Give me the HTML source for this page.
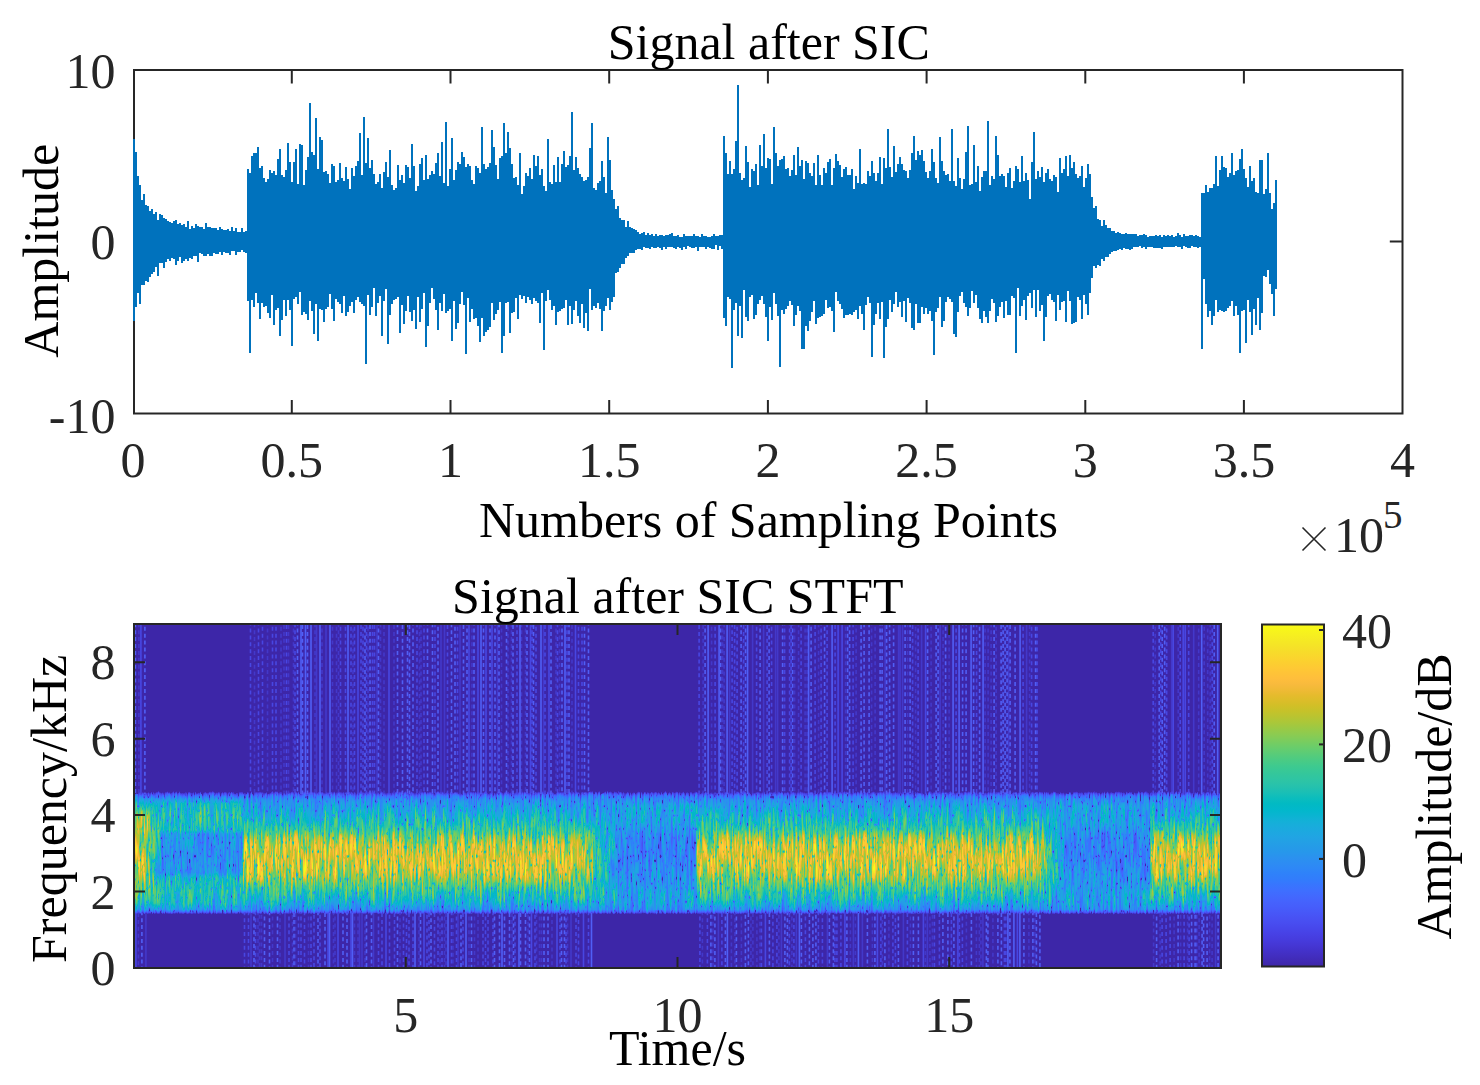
<!DOCTYPE html>
<html><head><meta charset="utf-8"><style>html,body{margin:0;padding:0;background:#fff;width:1480px;height:1085px;overflow:hidden}svg{display:block}</style></head>
<body>
<svg width="1480" height="1085" viewBox="0 0 1480 1085" font-family="'Liberation Serif', serif">
<rect width="1480" height="1085" fill="#fff"/>
<g stroke="#262626" stroke-width="2" fill="none">
<rect x="134.0" y="70.0" width="1268.5" height="343.5"/>
<path d="M291.8 70.0v13.5M291.8 413.5v-13.5M450.5 70.0v13.5M450.5 413.5v-13.5M609.2 70.0v13.5M609.2 413.5v-13.5M767.9 70.0v13.5M767.9 413.5v-13.5M926.6 70.0v13.5M926.6 413.5v-13.5M1085.3 70.0v13.5M1085.3 413.5v-13.5M1243.9 70.0v13.5M1243.9 413.5v-13.5M134.0 241.5h12.7M1402.5 241.5h-12.7"/>
</g>
<path fill="#0072bd" d="M133 242V139H135V152H137V176H139V185H141V200H143V194H145V205H147V206H149V211H151V209H153V214H155V212H157V220H159V214H161V215H163V218H165V219H167V221H169V222H171V223H173V221H175V220H177V224H179V223H181V225H183V224H185V227H187V221H189V229H191V226H193V228H195V224H197V226H199V227H201V227H203V229H205V223H207V227H209V227H211V228H213V228H215V228H217V230H219V227H221V229H223V230H225V230H227V229H229V231H231V227H233V231H235V228H237V232H239V232H241V228H243V232H245V231H247V169H249V173H251V156H253V153H255V153H257V147H259V168H261V166H263V178H265V182H267V179H269V170H271V173H273V171H275V175H277V159H279V149H281V175H283V177H285V170H287V143H289V162H291V182H293V162H295V149H297V184H299V144H301V145H303V185H305V170H307V157H309V103H311V152H313V155H315V118H317V169H319V137H321V140H323V172H325V171H327V174H329V183H331V164H333V166H335V182H337V180H339V163H341V178H343V181H345V167H347V179H349V189H351V168H353V176H355V166H357V161H359V133H361V175H363V117H365V163H367V138H369V168H371V160H373V174H375V184H377V182H379V174H381V188H383V172H385V162H387V177H389V150H391V185H393V190H395V188H397V165H399V180H401V175H403V183H405V165H407V167H409V178H411V144H413V166H415V191H417V186H419V164H421V158H423V180H425V155H427V179H429V175H431V171H433V174H435V163H437V153H439V176H441V142H443V183H445V122H447V186H449V169H451V138H453V180H455V170H457V162H459V164H461V152H463V157H465V167H467V164H469V166H471V180H473V184H475V166H477V168H479V173H481V127H483V164H485V169H487V167H489V163H491V130H493V147H495V165H497V179H499V158H501V156H503V123H505V153H507V132H509V148H511V164H513V178H515V177H517V185H519V153H521V194H523V186H525V173H527V176H529V168H531V179H533V155H535V166H537V156H539V175H541V169H543V186H545V191H547V139H549V182H551V184H553V165H555V182H557V157H559V182H561V164H563V151H565V167H567V165H569V156H571V112H573V170H575V157H577V168H579V174H581V177H583V181H585V180H587V177H589V148H591V123H593V188H595V190H597V183H599V181H601V161H603V177H605V193H607V137H609V160H611V190H613V199H615V209H617V206H619V218H621V220H623V220H625V227H627V221H629V227H631V228H633V229H635V230H637V232H639V234H641V233H643V232H645V235H647V233H649V235H651V234H653V236H655V234H657V236H659V235H661V235H663V236H665V235H667V235H669V234H671V233H673V236H675V236H677V235H679V237H681V237H683V234H685V236H687V236H689V236H691V236H693V234H695V236H697V236H699V237H701V234H703V236H705V236H707V237H709V237H711V236H713V234H715V236H717V236H719V235H721V235H723V136H725V153H727V174H729V161H731V174H733V169H735V141H737V85H739V173H741V180H743V178H745V146H747V162H749V187H751V169H753V171H755V164H757V185H759V145H761V166H763V134H765V168H767V158H769V159H771V184H773V127H775V153H777V166H779V160H781V159H783V156H785V169H787V168H789V176H791V170H793V155H795V175H797V147H799V166H801V160H803V179H805V161H807V163H809V173H811V176H813V163H815V185H817V155H819V175H821V185H823V168H825V173H827V162H829V159H831V185H833V168H835V154H837V161H839V165H841V177H843V169H845V167H847V175H849V175H851V169H853V189H855V176H857V183H859V149H861V184H863V183H865V184H867V171H869V176H871V161H873V173H875V181H877V173H879V157H881V184H883V158H885V168H887V129H889V167H891V177H893V146H895V172H897V164H899V157H901V164H903V170H905V171H907V178H909V170H911V153H913V136H915V160H917V151H919V155H921V150H923V161H925V172H927V178H929V171H931V149H933V162H935V178H937V183H939V137H941V161H943V171H945V175H947V174H949V181H951V129H953V181H955V186H957V158H959V178H961V189H963V179H965V152H967V126H969V185H971V184H973V145H975V182H977V166H979V191H981V177H983V171H985V171H987V121H989V185H991V176H993V179H995V136H997V155H999V176H1001V174H1003V176H1005V187H1007V173H1009V168H1011V188H1013V181H1015V166H1017V169H1019V182H1021V156H1023V181H1025V173H1027V180H1029V199H1031V162H1033V132H1035V179H1037V171H1039V177H1041V167H1043V182H1045V173H1047V169H1049V179H1051V181H1053V175H1055V177H1057V192H1059V158H1061V173H1063V169H1065V156H1067V176H1069V155H1071V168H1073V162H1075V174H1077V178H1079V176H1081V166H1083V187H1085V178H1087V164H1089V174H1091V197H1093V208H1095V206H1097V219H1099V220H1101V226H1103V220H1105V225H1107V228H1109V228H1111V231H1113V231H1115V233H1117V232H1119V233H1121V234H1123V234H1125V233H1127V234H1129V234H1131V234H1133V234H1135V234H1137V236H1139V235H1141V235H1143V234H1145V235H1147V237H1149V236H1151V236H1153V236H1155V235H1157V236H1159V235H1161V237H1163V235H1165V236H1167V235H1169V236H1171V235H1173V237H1175V236H1177V233H1179V235H1181V237H1183V234H1185V236H1187V236H1189V235H1191V235H1193V236H1195V235H1197V236H1199V237H1201V193H1203V193H1205V185H1207V192H1209V188H1211V188H1213V184H1215V156H1217V186H1219V170H1221V156H1223V167H1225V168H1227V177H1229V173H1231V153H1233V175H1235V171H1237V170H1239V159H1241V149H1243V169H1245V178H1247V187H1249V166H1251V181H1253V178H1255V192H1257V193H1259V160H1261V160H1263V194H1265V189H1267V153H1269V193H1271V209H1273V203H1275V180H1277V289H1275V316H1273V294H1271V284H1269V270H1267V277H1265V276H1263V313H1261V330H1259V298H1257V325H1255V309H1253V335H1251V312H1249V300H1247V343H1245V310H1243V311H1241V353H1239V315H1237V306H1235V316H1233V301H1231V306H1229V308H1227V311H1225V312H1223V311H1221V310H1219V312H1217V300H1215V316H1213V325H1211V311H1209V317H1207V304H1205V279H1203V349H1201V247H1199V248H1197V247H1195V247H1193V246H1191V248H1189V248H1187V247H1185V246H1183V249H1181V247H1179V247H1177V246H1175V247H1173V247H1171V247H1169V247H1167V247H1165V247H1163V249H1161V248H1159V248H1157V248H1155V248H1153V247H1151V247H1149V247H1147V249H1145V247H1143V248H1141V246H1139V247H1137V247H1135V247H1133V249H1131V250H1129V249H1127V249H1125V248H1123V250H1121V249H1119V250H1117V251H1115V251H1113V252H1111V254H1109V257H1107V257H1105V261H1103V259H1101V266H1099V265H1097V268H1095V266H1093V278H1091V293H1089V315H1087V304H1085V295H1083V319H1081V300H1079V297H1077V322H1075V323H1073V324H1071V301H1069V291H1067V322H1065V301H1063V302H1061V310H1059V295H1057V321H1055V302H1053V300H1051V294H1049V296H1047V317H1045V341H1043V305H1041V311H1039V290H1037V317H1035V290H1033V308H1031V293H1029V296H1027V320H1025V300H1023V306H1021V316H1019V288H1017V353H1015V298H1013V296H1011V315H1009V315H1007V301H1005V318H1003V302H1001V307H999V316H997V322H995V303H993V299H991V311H989V323H987V317H985V311H983V323H981V319H979V308H977V295H975V303H973V291H971V308H969V316H967V307H965V303H963V292H961V296H959V312H957V337H955V334H953V302H951V299H949V297H947V302H945V321H943V327H941V297H939V308H937V312H935V355H933V321H931V311H929V314H927V308H925V314H923V307H921V323H919V323H917V304H915V330H913V328H911V303H909V298H907V322H905V301H903V317H901V302H899V307H897V292H895V304H893V312H891V300H889V319H887V327H885V358H883V302H881V319H879V303H877V314H875V325H873V357H871V303H869V297H867V305H865V330H863V314H861V306H859V319H857V310H855V312H853V315H851V314H849V315H847V315H845V318H843V309H841V304H839V301H837V292H835V332H833V311H831V307H829V308H827V300H825V314H823V316H821V317H819V318H817V324H815V301H813V312H811V321H809V331H807V326H805V349H803V349H801V311H799V306H797V315H795V326H793V305H791V301H789V306H787V309H785V314H783V310H781V367H779V316H777V304H775V293H773V320H771V307H769V341H767V317H765V304H763V296H761V300H759V304H757V315H755V319H753V295H751V297H749V321H747V317H745V290H743V338H741V306H739V336H737V303H735V310H733V368H731V299H729V297H727V326H725V318H723V249H721V246H719V250H717V245H715V249H713V249H711V248H709V247H707V249H705V247H703V247H701V247H699V251H697V247H695V248H693V248H691V247H689V246H687V249H685V247H683V250H681V248H679V247H677V249H675V248H673V247H671V247H669V247H667V249H665V247H663V250H661V248H659V247H657V248H655V248H653V247H651V249H649V248H647V248H645V247H643V250H641V249H639V249H637V250H635V253H633V253H631V253H629V256H627V258H625V264H623V264H621V268H619V272H617V273H615V297H613V302H611V310H609V298H607V306H605V311H603V331H601V309H599V303H597V308H595V306H593V310H591V289H589V331H587V313H585V328H583V304H581V323H579V316H577V301H575V310H573V324H571V306H569V325H567V300H565V308H563V309H561V311H559V312H557V325H555V306H553V310H551V300H549V290H547V301H545V350H543V293H541V323H539V303H537V301H535V298H533V304H531V300H529V297H527V303H525V296H523V299H521V295H519V319H517V298H515V312H513V313H511V333H509V302H507V303H505V336H503V353H501V302H499V310H497V314H495V320H493V303H491V327H489V330H487V332H485V336H483V318H481V342H479V326H477V318H475V319H473V309H471V322H469V298H467V354H465V305H463V292H461V304H459V323H457V329H455V301H453V341H451V309H449V311H447V313H445V294H443V311H441V303H439V330H437V310H435V299H433V288H431V303H429V326H427V347H425V293H423V309H421V322H419V297H417V329H415V310H413V321H411V312H409V296H407V311H405V324H403V305H401V333H399V297H397V299H395V300H393V304H391V315H389V344H387V289H385V301H383V336H381V296H379V303H377V316H375V288H373V307H371V315H369V295H367V364H365V306H363V304H361V302H359V297H357V300H355V313H353V302H351V306H349V312H347V316H345V296H343V313H341V304H339V302H337V299H335V321H333V309H331V294H329V307H327V309H325V322H323V310H321V309H319V341H317V304H315V334H313V311H311V301H309V320H307V314H305V312H303V315H301V292H299V304H297V297H295V299H293V346H291V310H289V300H287V316H285V300H283V320H281V336H279V308H277V310H275V325H273V295H271V318H269V313H267V306H265V307H263V303H261V319H259V303H257V293H255V307H253V300H251V353H249V301H247V253H245V252H243V250H241V252H239V252H237V255H235V251H233V251H231V255H229V253H227V253H225V252H223V255H221V252H219V254H217V254H215V253H213V256H211V256H209V254H207V256H205V256H203V254H201V253H199V262H197V256H195V256H193V259H191V258H189V261H187V259H185V261H183V263H181V257H179V261H177V265H175V259H173V258H171V261H169V259H167V262H165V268H163V263H161V263H159V276H157V267H155V272H153V274H151V277H149V282H147V281H145V285H143V285H141V304H139V293H137V307H135V321H133Z"/>
<text x="768.8" y="58.9" font-size="50" text-anchor="middle" fill="#000" >Signal after SIC</text>
<text x="133.1" y="476.5" font-size="50" text-anchor="middle" fill="#262626" >0</text>
<text x="291.8" y="476.5" font-size="50" text-anchor="middle" fill="#262626" >0.5</text>
<text x="450.5" y="476.5" font-size="50" text-anchor="middle" fill="#262626" >1</text>
<text x="609.2" y="476.5" font-size="50" text-anchor="middle" fill="#262626" >1.5</text>
<text x="767.9" y="476.5" font-size="50" text-anchor="middle" fill="#262626" >2</text>
<text x="926.6" y="476.5" font-size="50" text-anchor="middle" fill="#262626" >2.5</text>
<text x="1085.3" y="476.5" font-size="50" text-anchor="middle" fill="#262626" >3</text>
<text x="1243.9" y="476.5" font-size="50" text-anchor="middle" fill="#262626" >3.5</text>
<text x="1402.6" y="476.5" font-size="50" text-anchor="middle" fill="#262626" >4</text>
<text x="115.5" y="88.0" font-size="50" text-anchor="end" fill="#262626" >10</text>
<text x="115.5" y="259.0" font-size="50" text-anchor="end" fill="#262626" >0</text>
<text x="115.5" y="432.5" font-size="50" text-anchor="end" fill="#262626" >-10</text>
<text x="768.5" y="536.8" font-size="50" text-anchor="middle" fill="#000" >Numbers of Sampling Points</text>
<path d="M1302.5 527.5L1325.5 550.5M1325.5 527.5L1302.5 550.5" stroke="#262626" stroke-width="1.6"/>
<text x="1334.0" y="551.8" font-size="50" text-anchor="start" fill="#262626" >10</text>
<text x="1383.0" y="527.5" font-size="39" text-anchor="start" fill="#262626" >5</text>
<text transform="translate(57.6 250.7) rotate(-90)" font-size="50" text-anchor="middle">Amplitude</text>
<defs><linearGradient id="p_act" gradientUnits="userSpaceOnUse" x1="0" y1="624.0" x2="0" y2="968.0"><stop offset="0.0000" stop-color="rgb(0,0,0)"/><stop offset="0.4756" stop-color="rgb(0,0,0)"/><stop offset="0.4844" stop-color="rgb(44,44,44)"/><stop offset="0.4922" stop-color="rgb(85,85,85)"/><stop offset="0.5000" stop-color="rgb(108,108,108)"/><stop offset="0.5111" stop-color="rgb(124,124,124)"/><stop offset="0.5333" stop-color="rgb(137,137,137)"/><stop offset="0.5556" stop-color="rgb(149,149,149)"/><stop offset="0.5778" stop-color="rgb(162,162,162)"/><stop offset="0.6000" stop-color="rgb(175,175,175)"/><stop offset="0.6222" stop-color="rgb(194,194,194)"/><stop offset="0.6444" stop-color="rgb(209,209,209)"/><stop offset="0.6778" stop-color="rgb(215,215,215)"/><stop offset="0.7111" stop-color="rgb(212,212,212)"/><stop offset="0.7333" stop-color="rgb(201,201,201)"/><stop offset="0.7556" stop-color="rgb(185,185,185)"/><stop offset="0.7778" stop-color="rgb(169,169,169)"/><stop offset="0.8000" stop-color="rgb(156,156,156)"/><stop offset="0.8167" stop-color="rgb(140,140,140)"/><stop offset="0.8300" stop-color="rgb(124,124,124)"/><stop offset="0.8378" stop-color="rgb(98,98,98)"/><stop offset="0.8444" stop-color="rgb(54,54,54)"/><stop offset="0.8522" stop-color="rgb(0,0,0)"/><stop offset="1.0000" stop-color="rgb(0,0,0)"/></linearGradient><linearGradient id="p_quiet" gradientUnits="userSpaceOnUse" x1="0" y1="624.0" x2="0" y2="968.0"><stop offset="0.0000" stop-color="rgb(0,0,0)"/><stop offset="0.4756" stop-color="rgb(0,0,0)"/><stop offset="0.4844" stop-color="rgb(44,44,44)"/><stop offset="0.4922" stop-color="rgb(85,85,85)"/><stop offset="0.5000" stop-color="rgb(108,108,108)"/><stop offset="0.5089" stop-color="rgb(121,121,121)"/><stop offset="0.5333" stop-color="rgb(138,138,138)"/><stop offset="0.5778" stop-color="rgb(135,135,135)"/><stop offset="0.6222" stop-color="rgb(121,121,121)"/><stop offset="0.6889" stop-color="rgb(117,117,117)"/><stop offset="0.7556" stop-color="rgb(129,129,129)"/><stop offset="0.7889" stop-color="rgb(140,140,140)"/><stop offset="0.8111" stop-color="rgb(137,137,137)"/><stop offset="0.8300" stop-color="rgb(124,124,124)"/><stop offset="0.8378" stop-color="rgb(98,98,98)"/><stop offset="0.8444" stop-color="rgb(54,54,54)"/><stop offset="0.8522" stop-color="rgb(0,0,0)"/><stop offset="1.0000" stop-color="rgb(0,0,0)"/></linearGradient><linearGradient id="p_quiet1" gradientUnits="userSpaceOnUse" x1="0" y1="624.0" x2="0" y2="968.0"><stop offset="0.0000" stop-color="rgb(0,0,0)"/><stop offset="0.4756" stop-color="rgb(0,0,0)"/><stop offset="0.4844" stop-color="rgb(44,44,44)"/><stop offset="0.4922" stop-color="rgb(85,85,85)"/><stop offset="0.5000" stop-color="rgb(108,108,108)"/><stop offset="0.5089" stop-color="rgb(130,130,130)"/><stop offset="0.5222" stop-color="rgb(153,153,153)"/><stop offset="0.5556" stop-color="rgb(162,162,162)"/><stop offset="0.5978" stop-color="rgb(159,159,159)"/><stop offset="0.6111" stop-color="rgb(130,130,130)"/><stop offset="0.6667" stop-color="rgb(124,124,124)"/><stop offset="0.7222" stop-color="rgb(130,130,130)"/><stop offset="0.7389" stop-color="rgb(159,159,159)"/><stop offset="0.7778" stop-color="rgb(162,162,162)"/><stop offset="0.8111" stop-color="rgb(153,153,153)"/><stop offset="0.8300" stop-color="rgb(130,130,130)"/><stop offset="0.8378" stop-color="rgb(98,98,98)"/><stop offset="0.8444" stop-color="rgb(54,54,54)"/><stop offset="0.8522" stop-color="rgb(0,0,0)"/><stop offset="1.0000" stop-color="rgb(0,0,0)"/></linearGradient><linearGradient id="p_start" gradientUnits="userSpaceOnUse" x1="0" y1="624.0" x2="0" y2="968.0"><stop offset="0.0000" stop-color="rgb(0,0,0)"/><stop offset="0.4756" stop-color="rgb(0,0,0)"/><stop offset="0.4844" stop-color="rgb(44,44,44)"/><stop offset="0.4922" stop-color="rgb(85,85,85)"/><stop offset="0.5000" stop-color="rgb(108,108,108)"/><stop offset="0.5089" stop-color="rgb(130,130,130)"/><stop offset="0.5333" stop-color="rgb(162,162,162)"/><stop offset="0.5667" stop-color="rgb(194,194,194)"/><stop offset="0.6000" stop-color="rgb(210,210,210)"/><stop offset="0.6556" stop-color="rgb(217,217,217)"/><stop offset="0.7111" stop-color="rgb(213,213,213)"/><stop offset="0.7444" stop-color="rgb(201,201,201)"/><stop offset="0.7778" stop-color="rgb(175,175,175)"/><stop offset="0.8111" stop-color="rgb(156,156,156)"/><stop offset="0.8300" stop-color="rgb(130,130,130)"/><stop offset="0.8378" stop-color="rgb(98,98,98)"/><stop offset="0.8444" stop-color="rgb(54,54,54)"/><stop offset="0.8522" stop-color="rgb(0,0,0)"/><stop offset="1.0000" stop-color="rgb(0,0,0)"/></linearGradient><linearGradient id="p_t0" gradientUnits="userSpaceOnUse" x1="0" y1="624.0" x2="0" y2="968.0"><stop offset="0.0000" stop-color="rgb(0,0,0)"/><stop offset="0.4756" stop-color="rgb(0,0,0)"/><stop offset="0.4844" stop-color="rgb(44,44,44)"/><stop offset="0.4922" stop-color="rgb(85,85,85)"/><stop offset="0.5000" stop-color="rgb(108,108,108)"/><stop offset="0.5089" stop-color="rgb(121,121,121)"/><stop offset="0.5111" stop-color="rgb(124,124,124)"/><stop offset="0.5333" stop-color="rgb(137,137,137)"/><stop offset="0.5556" stop-color="rgb(147,147,147)"/><stop offset="0.5778" stop-color="rgb(157,157,157)"/><stop offset="0.6000" stop-color="rgb(166,166,166)"/><stop offset="0.6222" stop-color="rgb(180,180,180)"/><stop offset="0.6444" stop-color="rgb(191,191,191)"/><stop offset="0.6778" stop-color="rgb(196,196,196)"/><stop offset="0.6889" stop-color="rgb(195,195,195)"/><stop offset="0.7111" stop-color="rgb(194,194,194)"/><stop offset="0.7333" stop-color="rgb(185,185,185)"/><stop offset="0.7556" stop-color="rgb(173,173,173)"/><stop offset="0.7778" stop-color="rgb(162,162,162)"/><stop offset="0.7889" stop-color="rgb(158,158,158)"/><stop offset="0.8000" stop-color="rgb(152,152,152)"/><stop offset="0.8111" stop-color="rgb(143,143,143)"/><stop offset="0.8167" stop-color="rgb(138,138,138)"/><stop offset="0.8300" stop-color="rgb(124,124,124)"/><stop offset="0.8378" stop-color="rgb(98,98,98)"/><stop offset="0.8444" stop-color="rgb(54,54,54)"/><stop offset="0.8522" stop-color="rgb(0,0,0)"/><stop offset="1.0000" stop-color="rgb(0,0,0)"/></linearGradient><linearGradient id="p_t1" gradientUnits="userSpaceOnUse" x1="0" y1="624.0" x2="0" y2="968.0"><stop offset="0.0000" stop-color="rgb(0,0,0)"/><stop offset="0.4756" stop-color="rgb(0,0,0)"/><stop offset="0.4844" stop-color="rgb(44,44,44)"/><stop offset="0.4922" stop-color="rgb(85,85,85)"/><stop offset="0.5000" stop-color="rgb(108,108,108)"/><stop offset="0.5089" stop-color="rgb(121,121,121)"/><stop offset="0.5111" stop-color="rgb(123,123,123)"/><stop offset="0.5333" stop-color="rgb(137,137,137)"/><stop offset="0.5556" stop-color="rgb(144,144,144)"/><stop offset="0.5778" stop-color="rgb(151,151,151)"/><stop offset="0.6000" stop-color="rgb(156,156,156)"/><stop offset="0.6222" stop-color="rgb(165,165,165)"/><stop offset="0.6444" stop-color="rgb(173,173,173)"/><stop offset="0.6778" stop-color="rgb(176,176,176)"/><stop offset="0.6889" stop-color="rgb(175,175,175)"/><stop offset="0.7111" stop-color="rgb(176,176,176)"/><stop offset="0.7333" stop-color="rgb(170,170,170)"/><stop offset="0.7556" stop-color="rgb(162,162,162)"/><stop offset="0.7778" stop-color="rgb(156,156,156)"/><stop offset="0.7889" stop-color="rgb(153,153,153)"/><stop offset="0.8000" stop-color="rgb(149,149,149)"/><stop offset="0.8111" stop-color="rgb(142,142,142)"/><stop offset="0.8167" stop-color="rgb(137,137,137)"/><stop offset="0.8300" stop-color="rgb(124,124,124)"/><stop offset="0.8378" stop-color="rgb(98,98,98)"/><stop offset="0.8444" stop-color="rgb(54,54,54)"/><stop offset="0.8522" stop-color="rgb(0,0,0)"/><stop offset="1.0000" stop-color="rgb(0,0,0)"/></linearGradient><linearGradient id="p_t2" gradientUnits="userSpaceOnUse" x1="0" y1="624.0" x2="0" y2="968.0"><stop offset="0.0000" stop-color="rgb(0,0,0)"/><stop offset="0.4756" stop-color="rgb(0,0,0)"/><stop offset="0.4844" stop-color="rgb(44,44,44)"/><stop offset="0.4922" stop-color="rgb(85,85,85)"/><stop offset="0.5000" stop-color="rgb(108,108,108)"/><stop offset="0.5089" stop-color="rgb(121,121,121)"/><stop offset="0.5111" stop-color="rgb(123,123,123)"/><stop offset="0.5333" stop-color="rgb(138,138,138)"/><stop offset="0.5556" stop-color="rgb(142,142,142)"/><stop offset="0.5778" stop-color="rgb(146,146,146)"/><stop offset="0.6000" stop-color="rgb(147,147,147)"/><stop offset="0.6222" stop-color="rgb(150,150,150)"/><stop offset="0.6444" stop-color="rgb(155,155,155)"/><stop offset="0.6778" stop-color="rgb(157,157,157)"/><stop offset="0.6889" stop-color="rgb(156,156,156)"/><stop offset="0.7111" stop-color="rgb(157,157,157)"/><stop offset="0.7333" stop-color="rgb(155,155,155)"/><stop offset="0.7556" stop-color="rgb(151,151,151)"/><stop offset="0.7778" stop-color="rgb(149,149,149)"/><stop offset="0.7889" stop-color="rgb(149,149,149)"/><stop offset="0.8000" stop-color="rgb(145,145,145)"/><stop offset="0.8111" stop-color="rgb(140,140,140)"/><stop offset="0.8167" stop-color="rgb(136,136,136)"/><stop offset="0.8300" stop-color="rgb(124,124,124)"/><stop offset="0.8378" stop-color="rgb(98,98,98)"/><stop offset="0.8444" stop-color="rgb(54,54,54)"/><stop offset="0.8522" stop-color="rgb(0,0,0)"/><stop offset="1.0000" stop-color="rgb(0,0,0)"/></linearGradient><linearGradient id="p_t3" gradientUnits="userSpaceOnUse" x1="0" y1="624.0" x2="0" y2="968.0"><stop offset="0.0000" stop-color="rgb(0,0,0)"/><stop offset="0.4756" stop-color="rgb(0,0,0)"/><stop offset="0.4844" stop-color="rgb(44,44,44)"/><stop offset="0.4922" stop-color="rgb(85,85,85)"/><stop offset="0.5000" stop-color="rgb(108,108,108)"/><stop offset="0.5089" stop-color="rgb(121,121,121)"/><stop offset="0.5111" stop-color="rgb(123,123,123)"/><stop offset="0.5333" stop-color="rgb(138,138,138)"/><stop offset="0.5556" stop-color="rgb(139,139,139)"/><stop offset="0.5778" stop-color="rgb(141,141,141)"/><stop offset="0.6000" stop-color="rgb(137,137,137)"/><stop offset="0.6222" stop-color="rgb(135,135,135)"/><stop offset="0.6444" stop-color="rgb(137,137,137)"/><stop offset="0.6778" stop-color="rgb(137,137,137)"/><stop offset="0.6889" stop-color="rgb(137,137,137)"/><stop offset="0.7111" stop-color="rgb(139,139,139)"/><stop offset="0.7333" stop-color="rgb(140,140,140)"/><stop offset="0.7556" stop-color="rgb(140,140,140)"/><stop offset="0.7778" stop-color="rgb(143,143,143)"/><stop offset="0.7889" stop-color="rgb(144,144,144)"/><stop offset="0.8000" stop-color="rgb(142,142,142)"/><stop offset="0.8111" stop-color="rgb(138,138,138)"/><stop offset="0.8167" stop-color="rgb(134,134,134)"/><stop offset="0.8300" stop-color="rgb(124,124,124)"/><stop offset="0.8378" stop-color="rgb(98,98,98)"/><stop offset="0.8444" stop-color="rgb(54,54,54)"/><stop offset="0.8522" stop-color="rgb(0,0,0)"/><stop offset="1.0000" stop-color="rgb(0,0,0)"/></linearGradient><linearGradient id="p_s0" gradientUnits="userSpaceOnUse" x1="0" y1="624.0" x2="0" y2="968.0"><stop offset="0.0000" stop-color="rgb(0,0,0)"/><stop offset="0.4756" stop-color="rgb(0,0,0)"/><stop offset="0.4844" stop-color="rgb(44,44,44)"/><stop offset="0.4922" stop-color="rgb(85,85,85)"/><stop offset="0.5000" stop-color="rgb(108,108,108)"/><stop offset="0.5089" stop-color="rgb(130,130,130)"/><stop offset="0.5222" stop-color="rgb(149,149,149)"/><stop offset="0.5333" stop-color="rgb(161,161,161)"/><stop offset="0.5556" stop-color="rgb(178,178,178)"/><stop offset="0.5667" stop-color="rgb(186,186,186)"/><stop offset="0.5978" stop-color="rgb(197,197,197)"/><stop offset="0.6000" stop-color="rgb(196,196,196)"/><stop offset="0.6111" stop-color="rgb(191,191,191)"/><stop offset="0.6556" stop-color="rgb(194,194,194)"/><stop offset="0.6667" stop-color="rgb(193,193,193)"/><stop offset="0.7111" stop-color="rgb(192,192,192)"/><stop offset="0.7222" stop-color="rgb(189,189,189)"/><stop offset="0.7389" stop-color="rgb(192,192,192)"/><stop offset="0.7444" stop-color="rgb(190,190,190)"/><stop offset="0.7778" stop-color="rgb(172,172,172)"/><stop offset="0.8111" stop-color="rgb(155,155,155)"/><stop offset="0.8300" stop-color="rgb(130,130,130)"/><stop offset="0.8378" stop-color="rgb(98,98,98)"/><stop offset="0.8444" stop-color="rgb(54,54,54)"/><stop offset="0.8522" stop-color="rgb(0,0,0)"/><stop offset="1.0000" stop-color="rgb(0,0,0)"/></linearGradient><linearGradient id="p_s1" gradientUnits="userSpaceOnUse" x1="0" y1="624.0" x2="0" y2="968.0"><stop offset="0.0000" stop-color="rgb(0,0,0)"/><stop offset="0.4756" stop-color="rgb(0,0,0)"/><stop offset="0.4844" stop-color="rgb(44,44,44)"/><stop offset="0.4922" stop-color="rgb(85,85,85)"/><stop offset="0.5000" stop-color="rgb(108,108,108)"/><stop offset="0.5089" stop-color="rgb(130,130,130)"/><stop offset="0.5222" stop-color="rgb(150,150,150)"/><stop offset="0.5333" stop-color="rgb(159,159,159)"/><stop offset="0.5556" stop-color="rgb(173,173,173)"/><stop offset="0.5667" stop-color="rgb(178,178,178)"/><stop offset="0.5978" stop-color="rgb(184,184,184)"/><stop offset="0.6000" stop-color="rgb(182,182,182)"/><stop offset="0.6111" stop-color="rgb(171,171,171)"/><stop offset="0.6556" stop-color="rgb(171,171,171)"/><stop offset="0.6667" stop-color="rgb(170,170,170)"/><stop offset="0.7111" stop-color="rgb(171,171,171)"/><stop offset="0.7222" stop-color="rgb(170,170,170)"/><stop offset="0.7389" stop-color="rgb(181,181,181)"/><stop offset="0.7444" stop-color="rgb(180,180,180)"/><stop offset="0.7778" stop-color="rgb(169,169,169)"/><stop offset="0.8111" stop-color="rgb(154,154,154)"/><stop offset="0.8300" stop-color="rgb(130,130,130)"/><stop offset="0.8378" stop-color="rgb(98,98,98)"/><stop offset="0.8444" stop-color="rgb(54,54,54)"/><stop offset="0.8522" stop-color="rgb(0,0,0)"/><stop offset="1.0000" stop-color="rgb(0,0,0)"/></linearGradient><linearGradient id="p_s2" gradientUnits="userSpaceOnUse" x1="0" y1="624.0" x2="0" y2="968.0"><stop offset="0.0000" stop-color="rgb(0,0,0)"/><stop offset="0.4756" stop-color="rgb(0,0,0)"/><stop offset="0.4844" stop-color="rgb(44,44,44)"/><stop offset="0.4922" stop-color="rgb(85,85,85)"/><stop offset="0.5000" stop-color="rgb(108,108,108)"/><stop offset="0.5089" stop-color="rgb(130,130,130)"/><stop offset="0.5222" stop-color="rgb(151,151,151)"/><stop offset="0.5333" stop-color="rgb(157,157,157)"/><stop offset="0.5556" stop-color="rgb(168,168,168)"/><stop offset="0.5667" stop-color="rgb(170,170,170)"/><stop offset="0.5978" stop-color="rgb(172,172,172)"/><stop offset="0.6000" stop-color="rgb(168,168,168)"/><stop offset="0.6111" stop-color="rgb(151,151,151)"/><stop offset="0.6556" stop-color="rgb(148,148,148)"/><stop offset="0.6667" stop-color="rgb(147,147,147)"/><stop offset="0.7111" stop-color="rgb(150,150,150)"/><stop offset="0.7222" stop-color="rgb(150,150,150)"/><stop offset="0.7389" stop-color="rgb(170,170,170)"/><stop offset="0.7444" stop-color="rgb(170,170,170)"/><stop offset="0.7778" stop-color="rgb(165,165,165)"/><stop offset="0.8111" stop-color="rgb(153,153,153)"/><stop offset="0.8300" stop-color="rgb(130,130,130)"/><stop offset="0.8378" stop-color="rgb(98,98,98)"/><stop offset="0.8444" stop-color="rgb(54,54,54)"/><stop offset="0.8522" stop-color="rgb(0,0,0)"/><stop offset="1.0000" stop-color="rgb(0,0,0)"/></linearGradient><filter id="spec" x="134.0" y="624.0" width="1087.0" height="344.0" filterUnits="userSpaceOnUse" color-interpolation-filters="sRGB"><feTurbulence type="fractalNoise" baseFrequency="0.45 0.035" numOctaves="2" seed="5" result="t"/><feColorMatrix in="t" type="matrix" values="1 0 0 0 0 1 0 0 0 0 1 0 0 0 0 0 0 0 0 1" result="n"/><feComposite in="SourceGraphic" in2="n" operator="arithmetic" k1="0.74667" k2="0.96000" k3="0.14933" k4="-0.40800" result="c"/><feTurbulence type="fractalNoise" baseFrequency="0.55 0.22" numOctaves="1" seed="9" result="t2"/><feComponentTransfer in="t2" result="sp"><feFuncR type="table" tableValues="0 0 0.1 0.8 1 1 1 1 1 1"/><feFuncA type="linear" slope="0" intercept="1"/></feComponentTransfer><feComposite in="c" in2="sp" operator="arithmetic" k1="0" k2="1" k3="0.38" k4="-0.38" result="c2"/><feColorMatrix in="c2" type="matrix" values="1 0 0 0 0 1 0 0 0 0 1 0 0 0 0 0 0 0 0 1"/><feComponentTransfer><feFuncR type="table" tableValues="0.2422 0.2504 0.2578 0.2647 0.2706 0.2751 0.2783 0.2803 0.2813 0.2810 0.2795 0.2760 0.2699 0.2602 0.2440 0.2206 0.1963 0.1834 0.1786 0.1764 0.1687 0.1540 0.1460 0.1380 0.1248 0.1113 0.0952 0.0689 0.0297 0.0036 0.0067 0.0433 0.0964 0.1408 0.1717 0.1938 0.2161 0.2470 0.2906 0.3406 0.3909 0.4456 0.5044 0.5616 0.6174 0.6720 0.7242 0.7738 0.8203 0.8634 0.9035 0.9393 0.9728 0.9956 0.9970 0.9952 0.9892 0.9786 0.9676 0.9610 0.9597 0.9628 0.9691 0.9769"/><feFuncG type="table" tableValues="0.1504 0.1650 0.1818 0.1978 0.2147 0.2342 0.2559 0.2782 0.3006 0.3228 0.3447 0.3667 0.3892 0.4123 0.4358 0.4603 0.4847 0.5074 0.5289 0.5499 0.5703 0.5902 0.6091 0.6276 0.6459 0.6635 0.6798 0.6948 0.7082 0.7203 0.7312 0.7411 0.7500 0.7584 0.7670 0.7758 0.7843 0.7918 0.7973 0.8008 0.8029 0.8024 0.7993 0.7942 0.7876 0.7793 0.7698 0.7598 0.7498 0.7406 0.7330 0.7288 0.7298 0.7434 0.7659 0.7893 0.8136 0.8386 0.8639 0.8890 0.9135 0.9373 0.9606 0.9839"/><feFuncB type="table" tableValues="0.6603 0.7076 0.7511 0.7952 0.8364 0.8710 0.8991 0.9221 0.9414 0.9579 0.9717 0.9829 0.9906 0.9952 0.9988 0.9973 0.9892 0.9798 0.9682 0.9520 0.9359 0.9218 0.9079 0.8973 0.8883 0.8763 0.8598 0.8394 0.8163 0.7917 0.7660 0.7394 0.7120 0.6842 0.6554 0.6251 0.5923 0.5567 0.5188 0.4789 0.4354 0.3909 0.3480 0.3045 0.2612 0.2227 0.1910 0.1646 0.1535 0.1596 0.1774 0.2100 0.2394 0.2371 0.2199 0.2028 0.1885 0.1766 0.1643 0.1537 0.1423 0.1265 0.1064 0.0805"/></feComponentTransfer></filter></defs>
<g filter="url(#spec)">
<rect x="134.0" y="624.0" width="11.5" height="344.0" fill="url(#p_start)"/>
<rect x="144.9" y="624.0" width="6.0" height="344.0" fill="url(#p_s0)"/>
<rect x="150.3" y="624.0" width="6.0" height="344.0" fill="url(#p_s1)"/>
<rect x="155.7" y="624.0" width="6.0" height="344.0" fill="url(#p_s2)"/>
<rect x="161.2" y="624.0" width="82.1" height="344.0" fill="url(#p_quiet1)"/>
<rect x="242.7" y="624.0" width="343.0" height="344.0" fill="url(#p_act)"/>
<rect x="585.1" y="624.0" width="8.8" height="344.0" fill="url(#p_t0)"/>
<rect x="593.3" y="624.0" width="8.8" height="344.0" fill="url(#p_t1)"/>
<rect x="601.4" y="624.0" width="8.8" height="344.0" fill="url(#p_t2)"/>
<rect x="609.6" y="624.0" width="8.8" height="344.0" fill="url(#p_t3)"/>
<rect x="617.7" y="624.0" width="79.4" height="344.0" fill="url(#p_quiet)"/>
<rect x="696.5" y="624.0" width="343.0" height="344.0" fill="url(#p_act)"/>
<rect x="1038.9" y="624.0" width="7.1" height="344.0" fill="url(#p_t0)"/>
<rect x="1045.4" y="624.0" width="7.1" height="344.0" fill="url(#p_t1)"/>
<rect x="1052.0" y="624.0" width="6.6" height="344.0" fill="url(#p_t2)"/>
<rect x="1058.0" y="624.0" width="6.0" height="344.0" fill="url(#p_t3)"/>
<rect x="1063.4" y="624.0" width="87.6" height="344.0" fill="url(#p_quiet)"/>
<rect x="1150.3" y="624.0" width="71.3" height="344.0" fill="url(#p_act)"/>
</g>
<path d="M284.0 625V794M288.5 625V794M384.0 625V794M394.0 625V794M419.5 625V794M572.0 625V794M703.1 625V794M1029.6 625V794M138.4 913V967M295.5 913V967M446.0 913V967M478.0 913V967M512.0 913V967M536.5 913V967M552.0 913V967M752.9 913V967M882.4 913V967M888.9 913V967M980.9 913V967M1160.1 913V967" stroke="#4640d8" stroke-opacity="0.7" stroke-width="1.6" stroke-dasharray="4 2.9" stroke-dashoffset="0.0"/>
<path d="M377.0 625V794M444.5 625V794M752.6 625V794M763.6 625V794M885.1 625V794M898.6 625V794M902.6 625V794M940.1 625V794M1008.6 625V794M1026.6 625V794M1171.7 625V794M1193.7 625V794M285.0 913V967M359.5 913V967M796.4 913V967M827.4 913V967M853.4 913V967M862.4 913V967M982.9 913V967M1215.6 913V967" stroke="#4640d8" stroke-opacity="0.7" stroke-width="1.6"/>
<path d="M138.9 625V794M254.5 625V794M315.0 625V794M338.5 625V794M380.5 625V794M421.0 625V794M511.5 625V794M521.5 625V794M724.1 625V794M798.6 625V794M818.6 625V794M907.6 625V794M943.1 625V794M991.1 625V794M1210.2 625V794M258.0 913V967M280.0 913V967M333.5 913V967M400.0 913V967M440.0 913V967M453.0 913V967M702.4 913V967M734.9 913V967M992.9 913V967M1028.9 913V967M1034.9 913V967M1199.1 913V967" stroke="#4640d8" stroke-opacity="0.7" stroke-width="1.6" stroke-dasharray="4 2.9" stroke-dashoffset="1.7"/>
<path d="M316.5 625V794M326.0 625V794M460.0 625V794M900.1 625V794M921.6 625V794M145.9 913V967M362.0 913V967M373.5 913V967" stroke="#4640d8" stroke-opacity="0.7" stroke-width="1.6"/>
<path d="M267.5 625V794M293.5 625V794M322.0 625V794M353.0 625V794M472.0 625V794M501.5 625V794M525.5 625V794M556.0 625V794M559.5 625V794M722.6 625V794M794.6 625V794M805.1 625V794M807.1 625V794M856.1 625V794M871.6 625V794M985.1 625V794M988.1 625V794M1198.7 625V794M1207.7 625V794M272.5 913V967M308.5 913V967M335.0 913V967M354.5 913V967M358.0 913V967M365.0 913V967M419.0 913V967M444.5 913V967M469.0 913V967M474.5 913V967M539.5 913V967M541.5 913V967M567.5 913V967M741.4 913V967M750.9 913V967M756.9 913V967M791.9 913V967M850.4 913V967M855.4 913V967M872.4 913V967M910.4 913V967M925.4 913V967M929.9 913V967M976.4 913V967M979.4 913V967M1174.1 913V967M1212.1 913V967" stroke="#4640d8" stroke-opacity="0.7" stroke-width="1.6" stroke-dasharray="4 2.9" stroke-dashoffset="3.4"/>
<path d="M543.5 625V794M729.6 625V794M775.6 625V794M458.0 913V967M718.4 913V967" stroke="#4640d8" stroke-opacity="0.7" stroke-width="1.6"/>
<path d="M281.0 625V794M332.5 625V794M336.5 625V794M368.0 625V794M508.0 625V794M711.6 625V794M845.6 625V794M875.1 625V794M915.6 625V794M931.1 625V794M949.1 625V794M996.1 625V794M1155.2 625V794M1178.2 625V794M1204.2 625V794M259.5 913V967M261.5 913V967M292.5 913V967M528.0 913V967M712.9 913V967M731.4 913V967M759.9 913V967M778.9 913V967M932.4 913V967M966.4 913V967M1153.6 913V967M1180.6 913V967M1187.6 913V967M1209.6 913V967" stroke="#4640d8" stroke-opacity="0.7" stroke-width="1.6" stroke-dasharray="4 2.9" stroke-dashoffset="5.1"/>
<path d="M441.0 625V794M497.5 625V794M777.6 625V794M251.0 913V967M571.0 913V967M781.4 913V967M903.4 913V967M927.4 913V967" stroke="#4640d8" stroke-opacity="0.7" stroke-width="1.6"/>
<path d="M286.5 625V794M361.0 625V794M366.5 625V794M372.5 625V794M374.5 625V794M447.5 625V794M545.0 625V794M699.1 625V794M734.6 625V794M743.6 625V794M767.1 625V794M791.1 625V794M815.1 625V794M835.1 625V794M912.6 625V794M1153.2 625V794M382.0 913V967M394.5 913V967M409.0 913V967M429.0 913V967M434.5 913V967M463.0 913V967M483.0 913V967M488.0 913V967M578.5 913V967M721.9 913V967M789.4 913V967M907.4 913V967M939.4 913V967M951.4 913V967" stroke="#4a4cec" stroke-opacity="0.85" stroke-width="1.6" stroke-dasharray="4 2.9" stroke-dashoffset="0.0"/>
<path d="M140.9 625V794M389.0 625V794M492.0 625V794M575.5 625V794M925.6 625V794M1173.2 625V794M135.9 913V967M351.0 913V967M531.5 913V967M877.4 913V967M923.4 913V967M957.9 913V967" stroke="#4a4cec" stroke-opacity="0.85" stroke-width="1.6"/>
<path d="M295.0 625V794M417.0 625V794M435.0 625V794M517.0 625V794M532.0 625V794M557.5 625V794M567.0 625V794M732.1 625V794M827.1 625V794M853.1 625V794M976.6 625V794M1180.2 625V794M1188.7 625V794M244.5 913V967M248.5 913V967M255.5 913V967M304.5 913V967M406.5 913V967M451.5 913V967M493.0 913V967M560.0 913V967M566.0 913V967M576.0 913V967M588.5 913V967M707.4 913V967M776.9 913V967M793.9 913V967M818.4 913V967M822.4 913V967M895.4 913V967M959.4 913V967M1162.1 913V967M1166.1 913V967" stroke="#4a4cec" stroke-opacity="0.85" stroke-width="1.6" stroke-dasharray="4 2.9" stroke-dashoffset="1.7"/>
<path d="M486.0 625V794M549.0 625V794M842.1 625V794M1183.2 625V794M1185.2 625V794M328.0 913V967M583.5 913V967M1017.4 913V967" stroke="#4a4cec" stroke-opacity="0.85" stroke-width="1.6"/>
<path d="M250.5 625V794M258.5 625V794M424.0 625V794M784.6 625V794M789.6 625V794M821.1 625V794M918.1 625V794M956.1 625V794M1160.7 625V794M1166.7 625V794M1212.2 625V794M289.0 913V967M298.5 913V967M301.0 913V967M311.0 913V967M378.5 913V967M403.5 913V967M413.0 913V967M438.0 913V967M442.0 913V967M456.5 913V967M485.5 913V967M699.9 913V967M805.4 913V967M834.9 913V967M836.9 913V967M880.9 913V967M962.4 913V967M1004.4 913V967M1005.9 913V967M1170.1 913V967M1189.1 913V967" stroke="#4a4cec" stroke-opacity="0.85" stroke-width="1.6" stroke-dasharray="4 2.9" stroke-dashoffset="3.4"/>
<path d="M338.0 913V967M386.0 913V967M557.0 913V967" stroke="#4a4cec" stroke-opacity="0.85" stroke-width="1.6"/>
<path d="M262.5 625V794M272.5 625V794M276.0 625V794M340.5 625V794M345.5 625V794M351.0 625V794M354.5 625V794M363.0 625V794M457.5 625V794M536.0 625V794M578.5 625V794M582.0 625V794M715.1 625V794M737.1 625V794M756.6 625V794M771.6 625V794M801.1 625V794M1023.1 625V794M1031.6 625V794M1037.1 625V794M314.0 913V967M320.0 913V967M389.5 913V967M427.0 913V967M515.0 913V967M535.0 913V967M761.4 913V967M772.9 913V967M840.9 913V967M892.9 913V967M934.4 913V967M1184.1 913V967M1196.6 913V967" stroke="#4a4cec" stroke-opacity="0.85" stroke-width="1.6" stroke-dasharray="4 2.9" stroke-dashoffset="5.1"/>
<path d="M358.0 625V794M469.0 625V794M478.0 625V794M530.5 625V794M838.1 625V794M424.0 913V967M765.4 913V967M844.9 913V967" stroke="#4a4cec" stroke-opacity="0.85" stroke-width="1.6"/>
<path d="M302.5 625V794M307.5 625V794M370.0 625V794M402.5 625V794M409.5 625V794M463.5 625V794M506.5 625V794M513.0 625V794M533.5 625V794M551.0 625V794M861.1 625V794M886.6 625V794M936.1 625V794M1001.1 625V794M1010.1 625V794M1159.2 625V794M1214.2 625V794M294.0 913V967M325.0 913V967M420.5 913V967M509.5 913V967M520.5 913V967M525.5 913V967M748.4 913V967M769.4 913V967M809.4 913V967M947.9 913V967M971.4 913V967M1001.4 913V967M1036.4 913V967M1202.1 913V967" stroke="#5162fa" stroke-opacity="0.95" stroke-width="1.6" stroke-dasharray="4 2.9" stroke-dashoffset="0.0"/>
<path d="M301.0 625V794M305.5 625V794M330.0 625V794M348.0 625V794M719.1 625V794M727.1 625V794M953.1 625V794M329.5 913V967M352.5 913V967M591.5 913V967M1013.9 913V967" stroke="#5162fa" stroke-opacity="0.95" stroke-width="1.6"/>
<path d="M135.4 625V794M397.5 625V794M407.5 625V794M432.5 625V794M451.5 625V794M499.0 625V794M527.0 625V794M569.0 625V794M741.1 625V794M849.6 625V794M864.1 625V794M869.1 625V794M889.6 625V794M905.1 625V794M910.1 625V794M973.6 625V794M994.1 625V794M1003.1 625V794M1007.1 625V794M1162.2 625V794M141.9 913V967M269.5 913V967M318.0 913V967M347.0 913V967M371.5 913V967M431.0 913V967M787.4 913V967M801.4 913V967M829.4 913V967M867.4 913V967M942.9 913V967M997.9 913V967M1009.9 913V967M1023.9 913V967M1032.9 913V967" stroke="#5162fa" stroke-opacity="0.95" stroke-width="1.6" stroke-dasharray="4 2.9" stroke-dashoffset="1.7"/>
<path d="M311.0 625V794M799.4 913V967M1019.9 913V967" stroke="#5162fa" stroke-opacity="0.95" stroke-width="1.6"/>
<path d="M297.5 625V794M365.0 625V794M378.5 625V794M413.0 625V794M427.5 625V794M467.0 625V794M474.0 625V794M483.5 625V794M490.0 625V794M495.0 625V794M562.0 625V794M588.5 625V794M705.1 625V794M720.6 625V794M745.6 625V794M760.1 625V794M769.1 625V794M782.6 625V794M792.6 625V794M880.1 625V794M882.1 625V794M893.6 625V794M927.6 625V794M938.1 625V794M962.6 625V794M966.1 625V794M254.0 913V967M264.5 913V967M277.5 913V967M343.0 913V967M397.5 913V967M471.5 913V967M494.5 913V967M504.5 913V967M513.5 913V967M529.5 913V967M544.0 913V967M548.0 913V967M561.5 913V967M564.5 913V967M714.9 913V967M725.4 913V967M736.4 913V967M784.9 913V967M812.9 913V967M846.9 913V967M874.9 913V967M898.4 913V967M913.4 913V967M918.4 913V967M953.9 913V967M987.9 913V967M1156.6 913V967M1203.6 913V967M1207.1 913V967" stroke="#5162fa" stroke-opacity="0.95" stroke-width="1.6" stroke-dasharray="4 2.9" stroke-dashoffset="3.4"/>
<path d="M541.0 625V794M708.1 625V794M1020.1 625V794M1201.7 625V794M1217.7 625V794M415.0 913V967M448.0 913V967M519.0 913V967M727.4 913V967M1007.9 913V967" stroke="#5162fa" stroke-opacity="0.95" stroke-width="1.6"/>
<path d="M144.9 625V794M438.0 625V794M455.0 625V794M584.5 625V794M811.1 625V794M824.6 625V794M847.6 625V794M945.6 625V794M979.6 625V794M1005.1 625V794M1015.1 625V794M1035.6 625V794M1164.7 625V794M366.5 913V967M461.0 913V967M499.5 913V967M710.9 913V967M745.4 913V967M815.9 913V967M833.4 913V967M884.9 913V967M986.4 913V967M1039.9 913V967M1178.1 913V967M1191.6 913V967M1195.1 913V967M1218.1 913V967" stroke="#5162fa" stroke-opacity="0.95" stroke-width="1.6" stroke-dasharray="4 2.9" stroke-dashoffset="5.1"/>
<path d="M320.0 625V794M481.0 625V794M520.0 625V794M565.0 625V794M747.6 625V794M808.6 625V794M832.1 625V794M959.1 625V794M971.1 625V794M983.1 625V794M466.0 913V967M502.0 913V967M858.4 913V967" stroke="#5162fa" stroke-opacity="0.95" stroke-width="1.6"/>
<g stroke="#262626" stroke-width="2" fill="none">
<rect x="134.0" y="624.0" width="1087.0" height="344.0"/>
<path d="M405.8 624.0v11M405.8 968.0v-11M677.5 624.0v11M677.5 968.0v-11M949.2 624.0v11M949.2 968.0v-11M134.0 891.6h11M1221.0 891.6h-11M134.0 815.1h11M1221.0 815.1h-11M134.0 738.7h11M1221.0 738.7h-11M134.0 662.2h11M1221.0 662.2h-11"/>
</g>
<text x="677.8" y="612.6" font-size="50" text-anchor="middle" fill="#000" >Signal after SIC STFT</text>
<text x="405.8" y="1031.5" font-size="50" text-anchor="middle" fill="#262626" >5</text>
<text x="677.5" y="1031.5" font-size="50" text-anchor="middle" fill="#262626" >10</text>
<text x="949.2" y="1031.5" font-size="50" text-anchor="middle" fill="#262626" >15</text>
<text x="115.5" y="985.2" font-size="50" text-anchor="end" fill="#262626" >0</text>
<text x="115.5" y="908.8" font-size="50" text-anchor="end" fill="#262626" >2</text>
<text x="115.5" y="832.3" font-size="50" text-anchor="end" fill="#262626" >4</text>
<text x="115.5" y="755.9" font-size="50" text-anchor="end" fill="#262626" >6</text>
<text x="115.5" y="679.4" font-size="50" text-anchor="end" fill="#262626" >8</text>
<text x="677.5" y="1064.6" font-size="50" text-anchor="middle" fill="#000" >Time/s</text>
<text transform="translate(65.5 808.9) rotate(-90)" font-size="50" text-anchor="middle">Frequency/kHz</text>
<defs><linearGradient id="cbar" x1="0" y1="1" x2="0" y2="0"><stop offset="0.0000" stop-color="rgb(62,38,168)"/><stop offset="0.0159" stop-color="rgb(64,42,180)"/><stop offset="0.0317" stop-color="rgb(66,46,192)"/><stop offset="0.0476" stop-color="rgb(67,50,203)"/><stop offset="0.0635" stop-color="rgb(69,55,213)"/><stop offset="0.0794" stop-color="rgb(70,60,222)"/><stop offset="0.0952" stop-color="rgb(71,65,229)"/><stop offset="0.1111" stop-color="rgb(71,71,235)"/><stop offset="0.1270" stop-color="rgb(72,77,240)"/><stop offset="0.1429" stop-color="rgb(72,82,244)"/><stop offset="0.1587" stop-color="rgb(71,88,248)"/><stop offset="0.1746" stop-color="rgb(70,94,251)"/><stop offset="0.1905" stop-color="rgb(69,99,253)"/><stop offset="0.2063" stop-color="rgb(66,105,254)"/><stop offset="0.2222" stop-color="rgb(62,111,255)"/><stop offset="0.2381" stop-color="rgb(56,117,254)"/><stop offset="0.2540" stop-color="rgb(50,124,252)"/><stop offset="0.2698" stop-color="rgb(47,129,250)"/><stop offset="0.2857" stop-color="rgb(46,135,247)"/><stop offset="0.3016" stop-color="rgb(45,140,243)"/><stop offset="0.3175" stop-color="rgb(43,145,239)"/><stop offset="0.3333" stop-color="rgb(39,151,235)"/><stop offset="0.3492" stop-color="rgb(37,155,232)"/><stop offset="0.3651" stop-color="rgb(35,160,229)"/><stop offset="0.3810" stop-color="rgb(32,165,227)"/><stop offset="0.3968" stop-color="rgb(28,169,223)"/><stop offset="0.4127" stop-color="rgb(24,173,219)"/><stop offset="0.4286" stop-color="rgb(18,177,214)"/><stop offset="0.4444" stop-color="rgb(8,181,208)"/><stop offset="0.4603" stop-color="rgb(1,184,202)"/><stop offset="0.4762" stop-color="rgb(2,186,195)"/><stop offset="0.4921" stop-color="rgb(11,189,189)"/><stop offset="0.5079" stop-color="rgb(25,191,182)"/><stop offset="0.5238" stop-color="rgb(36,193,174)"/><stop offset="0.5397" stop-color="rgb(44,196,167)"/><stop offset="0.5556" stop-color="rgb(49,198,159)"/><stop offset="0.5714" stop-color="rgb(55,200,151)"/><stop offset="0.5873" stop-color="rgb(63,202,142)"/><stop offset="0.6032" stop-color="rgb(74,203,132)"/><stop offset="0.6190" stop-color="rgb(87,204,122)"/><stop offset="0.6349" stop-color="rgb(100,205,111)"/><stop offset="0.6508" stop-color="rgb(114,205,100)"/><stop offset="0.6667" stop-color="rgb(129,204,89)"/><stop offset="0.6825" stop-color="rgb(143,203,78)"/><stop offset="0.6984" stop-color="rgb(157,201,67)"/><stop offset="0.7143" stop-color="rgb(171,199,57)"/><stop offset="0.7302" stop-color="rgb(185,196,49)"/><stop offset="0.7460" stop-color="rgb(197,194,42)"/><stop offset="0.7619" stop-color="rgb(209,191,39)"/><stop offset="0.7778" stop-color="rgb(220,189,41)"/><stop offset="0.7937" stop-color="rgb(230,187,45)"/><stop offset="0.8095" stop-color="rgb(240,186,54)"/><stop offset="0.8254" stop-color="rgb(248,186,61)"/><stop offset="0.8413" stop-color="rgb(254,190,60)"/><stop offset="0.8571" stop-color="rgb(254,195,56)"/><stop offset="0.8730" stop-color="rgb(254,201,52)"/><stop offset="0.8889" stop-color="rgb(252,207,48)"/><stop offset="0.9048" stop-color="rgb(250,214,45)"/><stop offset="0.9206" stop-color="rgb(247,220,42)"/><stop offset="0.9365" stop-color="rgb(245,227,39)"/><stop offset="0.9524" stop-color="rgb(245,233,36)"/><stop offset="0.9683" stop-color="rgb(246,239,32)"/><stop offset="0.9841" stop-color="rgb(247,245,27)"/><stop offset="1.0000" stop-color="rgb(249,251,21)"/></linearGradient></defs>
<rect x="1262.0" y="624.5" width="62.0" height="342.0" fill="url(#cbar)" stroke="#262626" stroke-width="2"/>
<path d="M1324.0 630.0h-5" stroke="#262626" stroke-width="2"/>
<text x="1342.0" y="648.0" font-size="50" text-anchor="start" fill="#262626" >40</text>
<path d="M1324.0 744.4h-5" stroke="#262626" stroke-width="2"/>
<text x="1342.0" y="762.4" font-size="50" text-anchor="start" fill="#262626" >20</text>
<path d="M1324.0 858.9h-5" stroke="#262626" stroke-width="2"/>
<text x="1342.0" y="876.9" font-size="50" text-anchor="start" fill="#262626" >0</text>
<text transform="translate(1451 796.5) rotate(-90)" font-size="50" text-anchor="middle">Amplitude/dB</text>
</svg>
</body></html>
